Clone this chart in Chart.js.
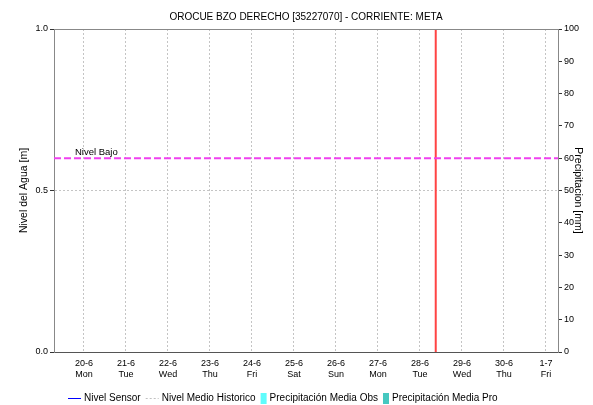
<!DOCTYPE html>
<html><head><meta charset="utf-8">
<script src="https://cdn.jsdelivr.net/npm/chart.js@4/dist/chart.umd.min.js"></script>
<style>html,body{margin:0;padding:0;background:#fff}canvas{display:block}</style>
</head><body>
<canvas id="c" width="593" height="405"></canvas>
<script>
// ---- data ----
const titleText = 'OROCUE BZO DERECHO [35227070] - CORRIENTE: META';
const dayPositions = [0, 1, 2, 3, 4, 5, 6, 7, 8, 9, 10, 11];
const dayLabels = ['20-6', '21-6', '22-6', '23-6', '24-6', '25-6', '26-6', '27-6', '28-6', '29-6', '30-6', '1-7'];
const weekdayLabels = ['Mon', 'Tue', 'Wed', 'Thu', 'Fri', 'Sat', 'Sun', 'Mon', 'Tue', 'Wed', 'Thu', 'Fri'];
const xRange = [-0.714, 11.286];          // days relative to 20-6 00:00
const nivelSensor = [];                   // no readings in the window
const nivelMedioHistorico = [];
const precipitacionObs = [];
const precipitacionPro = [];
const nivelBajo = 0.6;
const nivelBajoLabel = 'Nivel Bajo';
const currentTime = 8.375;                // 28-6 ~09:00
const levelTicks = [0, 0.5, 1.0];
const precipTicks = [0, 10, 20, 30, 40, 50, 60, 70, 80, 90, 100];

const FONT = "'Liberation Sans', Arial, sans-serif";

const decorPlugin = {
  id: 'decor',
  afterDatasetsDraw(chart) {
    const {ctx, chartArea: a, scales} = chart;
    ctx.save();
    ctx.strokeStyle = '#888';
    ctx.lineWidth = 1;
    ctx.beginPath();
    ctx.moveTo(a.left, a.top + 0.5);
    ctx.lineTo(a.right, a.top + 0.5);
    ctx.stroke();
    ctx.fillStyle = '#000';
    ctx.font = '9.5px ' + FONT;
    ctx.textAlign = 'left';
    ctx.textBaseline = 'bottom';
    ctx.fillText(nivelBajoLabel, a.left + 21, scales.y.getPixelForValue(nivelBajo) - 1);
    ctx.restore();
  },
  afterDraw(chart) {
    const {ctx, chartArea: a} = chart;
    ctx.save();
    ctx.fillStyle = '#000';
    ctx.font = '10px ' + FONT;
    ctx.textAlign = 'center';
    ctx.textBaseline = 'middle';
    ctx.fillText(titleText, (a.left + a.right) / 2, 17);
    ctx.font = '10px ' + FONT;
    ctx.textAlign = 'left';
    let x = 68;
    const y = 398;
    chart.data.datasets.forEach(ds => {
      if (!ds.legend) return;
      if (ds.legend === 'line') {
        ctx.strokeStyle = ds.borderColor;
        ctx.lineWidth = 1;
        ctx.setLineDash(ds.borderDash || []);
        ctx.beginPath();
        ctx.moveTo(x, y + 0.5);
        ctx.lineTo(x + 13, y + 0.5);
        ctx.stroke();
        ctx.setLineDash([]);
        x += 16;
      } else {
        ctx.fillStyle = ds.backgroundColor;
        ctx.fillRect(x, y - 5, 6, 11);
        x += 9;
      }
      ctx.fillStyle = '#000';
      ctx.fillText(ds.label, x, y);
      x += ctx.measureText(ds.label).width + 5;
    });
    ctx.restore();
  }
};

new Chart(document.getElementById('c'), {
  type: 'line',
  data: {
    datasets: [
      {label: 'Nivel Sensor', legend: 'line', data: nivelSensor, borderColor: '#0000ff', borderWidth: 1, pointRadius: 0, yAxisID: 'y'},
      {label: 'Nivel Medio Historico', legend: 'line', data: nivelMedioHistorico, borderColor: '#c0c0c0', borderDash: [2, 2], borderWidth: 1, pointRadius: 0, yAxisID: 'y'},
      {label: 'Precipitación Media Obs', legend: 'box', type: 'bar', data: precipitacionObs, backgroundColor: '#5ffcfc', yAxisID: 'y1'},
      {label: 'Precipitación Media Pro', legend: 'box', type: 'bar', data: precipitacionPro, backgroundColor: '#45c8c0', yAxisID: 'y1'},
      {label: nivelBajoLabel, data: [{x: xRange[0], y: nivelBajo}, {x: xRange[1], y: nivelBajo}], borderColor: '#f040f0', borderWidth: 2, borderDash: [7, 3], pointRadius: 0, yAxisID: 'y'},
      {label: 'Ahora', data: [{x: currentTime, y: 0}, {x: currentTime, y: 1}], borderColor: '#ff4444', borderWidth: 2, pointRadius: 0, yAxisID: 'y'}
    ]
  },
  options: {
    responsive: false,
    animation: false,
    layout: {padding: {top: 29, bottom: 23, left: 0, right: 0}},
    plugins: {legend: {display: false}, title: {display: false}, tooltip: {enabled: false}},
    scales: {
      x: {
        type: 'linear', min: xRange[0], max: xRange[1], offset: false,
        afterBuildTicks: s => { s.ticks = dayPositions.map(v => ({value: v})); },
        afterFit: s => { s.height = 30; s.paddingLeft = 0; s.paddingRight = 0; },
        ticks: {autoSkip: false, maxRotation: 0, padding: 6, color: '#000', font: {family: FONT, size: 9},
                callback: (v, i) => [dayLabels[i], weekdayLabels[i]]},
        grid: {color: '#c4c4c4', drawTicks: false, lineWidth: 1, offset: false},
        border: {dash: [2, 2], color: '#555', width: 1}
      },
      y: {
        position: 'left', min: 0, max: 1,
        afterBuildTicks: s => { s.ticks = levelTicks.map(v => ({value: v})); },
        afterFit: s => { s.width = 54; },
        ticks: {padding: 2, color: '#000', font: {family: FONT, size: 9}, callback: v => Number(v).toFixed(1)},
        grid: {color: '#c4c4c4', tickLength: 4, tickColor: '#333', tickBorderDash: []},
        border: {dash: [2, 2], color: '#888'},
        title: {display: true, text: 'Nivel del Agua [m]', color: '#000', font: {family: FONT, size: 10.5}, padding: {top: 18, bottom: 0}}
      },
      y1: {
        position: 'right', min: 0, max: 100,
        afterBuildTicks: s => { s.ticks = precipTicks.map(v => ({value: v})); },
        afterFit: s => { s.width = 35; },
        ticks: {padding: 2, color: '#000', font: {family: FONT, size: 9}},
        grid: {drawOnChartArea: false, tickLength: 4, tickColor: '#333'},
        border: {color: '#888'},
        title: {display: true, text: 'Precipitacion [mm]', color: '#000', font: {family: FONT, size: 10.5}, padding: {top: 9, bottom: 0}}
      }
    }
  },
  plugins: [decorPlugin]
});
</script>
</body></html>
